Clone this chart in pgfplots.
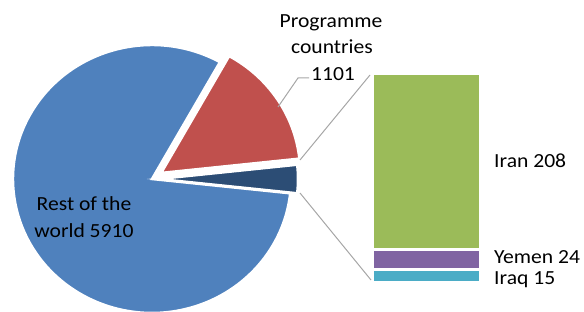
\documentclass[border=0pt]{standalone}
\usepackage{pgfplots}
\usepackage{pgfplotstable}
\pgfplotsset{compat=1.18}
\usetikzlibrary{calc}
\usepackage{fontspec}
\setmainfont{Carlito}[FakeStretch=1.08]
\definecolor{cRest}{HTML}{4F81BD}
\definecolor{cProg}{HTML}{C0504D}
\definecolor{cOther}{HTML}{2C4D75}
\definecolor{cIran}{HTML}{9BBB59}
\definecolor{cYemen}{HTML}{8064A2}
\definecolor{cIraq}{HTML}{4BACC6}
\definecolor{cLine}{HTML}{A6A6A6}

\pgfplotstableread{
label value
Rest 5910
Programme 1101
Other 247
}\pietable
\pgfplotstableread{
x Iraq Yemen Iran
0 15 24 208
}\bartable

\begin{document}
\begin{tikzpicture}[font=\fontsize{20}{23}\selectfont]
\useasboundingbox (0,0) rectangle (584pt,311pt);
\clip (0,0) rectangle (584pt,311pt);
\pgfplotstablegetelem{0}{value}\of\pietable \let\vRest\pgfplotsretval
\pgfplotstablegetelem{1}{value}\of\pietable \let\vProg\pgfplotsretval
\pgfplotstablegetelem{2}{value}\of\pietable \let\vOther\pgfplotsretval
\pgfmathsetmacro{\tot}{\vRest+\vProg+\vOther}
\pgfmathsetmacro{\aO}{\vOther/\tot*360}
\pgfmathsetmacro{\aOs}{-\aO/2}
\pgfmathsetmacro{\aOe}{\aO/2}
\pgfmathsetmacro{\aPe}{\aOe+\vProg/\tot*360}
\pgfmathsetmacro{\aPm}{(\aOe+\aPe)/2}
\pgfmathsetmacro{\aRe}{360+\aOs}
\begin{axis}[
  at={(0pt,0pt)}, anchor=origin,
  x=1pt, y=1pt, xmin=0, xmax=584, ymin=0, ymax=311,
  hide axis, clip=false]
  % Rest of the world
  \fill[cRest, draw=white, line width=2.5pt]
    (axis cs:152,132) -- ++(\aPe:139pt and 134pt)
    arc[start angle=\aPe, end angle=\aRe, x radius=139pt, y radius=134pt] -- cycle;
  % Programme countries (exploded)
  \fill[cProg, draw=white, line width=2.5pt]
    ($(axis cs:152,132)+(\aPm:11pt)$) -- ++(\aOe:139pt and 134pt)
    arc[start angle=\aOe, end angle=\aPe, x radius=139pt, y radius=134pt] -- cycle;
  % Other (exploded)
  \fill[cOther, draw=white, line width=2.5pt]
    (axis cs:159,132) -- ++(\aOs:139pt and 134pt)
    arc[start angle=\aOs, end angle=\aOe, x radius=139pt, y radius=134pt] -- cycle;
  % connector lines
  \draw[cLine, line width=1pt] (axis cs:300,151) -- (axis cs:370,236);
  \draw[cLine, line width=1pt] (axis cs:300,118) -- (axis cs:371,31);
  \draw[cLine, line width=1pt] (axis cs:278,204) -- (axis cs:298,233) -- (axis cs:309,233);
  % labels
  \node[anchor=base] at (axis cs:331,283) {Programme};
  \node[anchor=base] at (axis cs:332,257) {countries};
  \node[anchor=base] at (axis cs:333,230) {1101};
  \node[anchor=base] at (axis cs:84,100) {Rest of the};
  \node[anchor=base] at (axis cs:84,74) {world 5910};
  \node[anchor=base west, inner xsep=0pt] at (axis cs:494,143) {Iran 208};
  \node[anchor=base west, inner sep=0pt] at (axis cs:494,47.5) {Yemen 24};
  \node[anchor=base west, inner sep=0pt] at (axis cs:494,27) {Iraq 15};
\end{axis}
\begin{axis}[
  at={(426.8pt,28.75pt)}, anchor=origin,
  x=1pt, y=0.845pt, xmin=-60, xmax=60, ymin=0, ymax=260,
  hide axis, clip=false, ybar stacked, bar width=107.5]
  \addplot[fill=cIraq, draw=white, line width=2.5pt] table[x=x, y=Iraq] {\bartable};
  \addplot[fill=cYemen, draw=white, line width=2.5pt] table[x=x, y=Yemen] {\bartable};
  \addplot[fill=cIran, draw=white, line width=2.5pt] table[x=x, y=Iran] {\bartable};
\end{axis}
\end{tikzpicture}
\end{document}
